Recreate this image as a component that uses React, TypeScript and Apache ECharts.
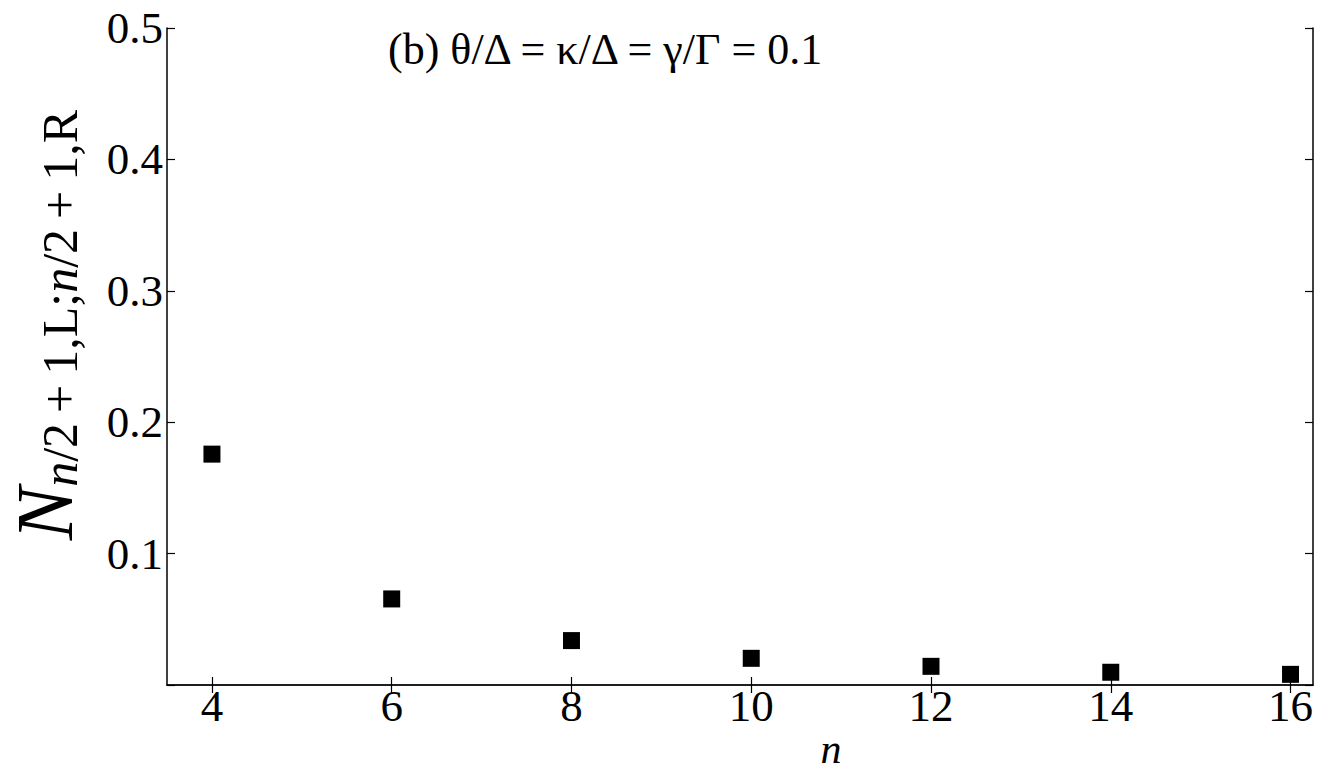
import React, { useEffect, useRef } from "react";
import * as echarts from "echarts";

const nValues = [4, 6, 8, 10, 12, 14, 16];
const negativity = [0.1757, 0.0655, 0.0338, 0.0203, 0.0142, 0.0097, 0.0081];
const xTickValues = [4, 6, 8, 10, 12, 14, 16];
const yLabelValues = [0.1, 0.2, 0.3, 0.4, 0.5];
const annotation = "(b) θ/Δ = κ/Δ = γ/Γ = 0.1";
const xAxisTitle = "n";

const SERIF = "Liberation Serif";

export default function App() {
  const ref = useRef<HTMLDivElement>(null);
  useEffect(() => {
    document.body.style.margin = "0";
    const chart = echarts.init(ref.current!, null, { renderer: "svg" });
    const tickStyle = { inside: true, length: 8, lineStyle: { color: "#000", width: 1.2 } };
    const lineStyle = { lineStyle: { color: "#111", width: 1.6 } };
    const sp = "\u2009";
    chart.setOption({
      animation: false,
      backgroundColor: "#fff",
      grid: { left: 167, right: 10, top: 28, bottom: 87, outerBoundsMode: "none", containLabel: false },
      xAxis: [
        {
          type: "value",
          min: 3.5,
          max: 16.25,
          axisLine: { show: true, ...lineStyle },
          axisTick: { ...tickStyle, customValues: xTickValues },
          axisLabel: {
            customValues: xTickValues,
            fontFamily: SERIF,
            fontSize: 45,
            color: "#000",
            margin: -2,
          },
          splitLine: { show: false },
        },
        {
          type: "value",
          position: "top",
          min: 3.5,
          max: 16.25,
          axisLine: { show: true, ...lineStyle },
          axisTick: { ...tickStyle, customValues: xTickValues },
          axisLabel: { show: false },
          splitLine: { show: false },
        },
      ],
      yAxis: [
        {
          type: "value",
          min: 0,
          max: 0.5,
          interval: 0.1,
          axisLine: { show: true, ...lineStyle },
          axisTick: tickStyle,
          axisLabel: {
            customValues: yLabelValues,
            formatter: (v: number) => v.toFixed(1),
            fontFamily: SERIF,
            fontSize: 45,
            color: "#000",
            margin: 4,
          },
          splitLine: { show: false },
        },
        {
          type: "value",
          position: "right",
          min: 0,
          max: 0.5,
          interval: 0.1,
          axisLine: { show: true, ...lineStyle },
          axisTick: tickStyle,
          axisLabel: { show: false },
          splitLine: { show: false },
        },
      ],
      graphic: [
        {
          type: "text",
          left: 388,
          top: 27,
          style: {
            text: annotation,
            fontFamily: SERIF,
            fontSize: 44,
            fill: "#000",
          },
        },
        {
          type: "text",
          x: 831,
          y: 749,
          style: {
            text: xAxisTitle,
            align: "center",
            verticalAlign: "middle",
            fontFamily: SERIF,
            fontStyle: "italic",
            fontSize: 42,
            fill: "#000",
          },
        },
        {
          type: "text",
          x: 45,
          y: 325,
          rotation: Math.PI / 2,
          style: {
            text: `{N|N}{si|n}{s|/2${sp}+${sp}1,L;}{si|n}{s|/2${sp}+${sp}1,R}`,
            align: "center",
            verticalAlign: "middle",
            fill: "#000",
            rich: {
              N: { fontFamily: SERIF, fontStyle: "italic", fontSize: 80, lineHeight: 80, verticalAlign: "middle", fill: "#000" },
              si: { fontFamily: SERIF, fontStyle: "italic", fontSize: 50, lineHeight: 50, verticalAlign: "bottom", fill: "#000" },
              s: { fontFamily: SERIF, fontSize: 50, lineHeight: 50, verticalAlign: "bottom", fill: "#000" },
            },
          },
        },
      ],
      series: [
        {
          type: "scatter",
          xAxisIndex: 0,
          yAxisIndex: 0,
          symbol: "rect",
          symbolSize: 17,
          itemStyle: { color: "#000", opacity: 1 },
          data: nValues.map((n, i) => [n, negativity[i]]),
        },
      ],
    });
    return () => chart.dispose();
  }, []);
  return <div ref={ref} style={{ width: 1323, height: 772 }} />;
}
